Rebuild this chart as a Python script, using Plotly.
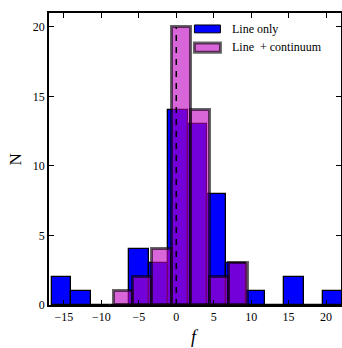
import numpy as np
import plotly.graph_objs as go

# histogram "Line only": bin edges and counts
line_edges = [-16.6, -14.01, -11.43, -8.84, -6.25, -3.67, -1.08, 1.51,
              4.09, 6.68, 9.27, 11.85, 14.44, 17.03, 19.61, 22.2]
line_counts = [2, 1, 0, 0, 4, 3, 14, 13, 8, 3, 1, 0, 2, 0, 1]

# histogram "Line + continuum"
cont_edges = [-8.3, -5.74, -3.18, -0.62, 1.94, 4.5, 7.06, 9.62]
cont_counts = [1, 2, 4, 20, 14, 2, 3]

x_ticks = [-15, -10, -5, 0, 5, 10, 15, 20]
y_ticks = [0, 5, 10, 15, 20]
ref_x = 0

FONT = "Liberation Serif"


def bar_geom(edges):
    e = np.array(edges)
    return (e[:-1] + e[1:]) / 2, np.diff(e)


xc1, w1 = bar_geom(line_edges)
xc2, w2 = bar_geom(cont_edges)

trace0 = go.Bar(
    x=xc1, y=line_counts, width=w1,
    name='Line only',
    marker=dict(color='rgb(0,0,255)',
                line=dict(color='black', width=1.3)),
    showlegend=False
)
trace1 = go.Bar(
    x=xc2, y=cont_counts, width=w2,
    name='Line + continuum',
    marker=dict(color='rgba(191,0,191,0.6)',
                line=dict(color='rgba(0,0,0,0.6)', width=3)),
    showlegend=False
)

fig = go.Figure(data=[trace0, trace1])

# dashed line at f = 0
fig.add_shape(type='line', x0=ref_x, x1=ref_x, y0=0, y1=max(cont_counts),
              xref='x', yref='y',
              line=dict(color='black', width=1.5, dash='6px,6px'))

# hand-made legend (wide patches like matplotlib)
fig.add_shape(type='rect', xref='paper', yref='paper',
              x0=0.498, x1=0.587, y0=0.932, y1=0.959,
              fillcolor='rgb(0,0,255)', line=dict(color='black', width=1))
fig.add_shape(type='rect', xref='paper', yref='paper',
              x0=0.498, x1=0.587, y0=0.866, y1=0.897,
              fillcolor='rgba(191,0,191,0.6)',
              line=dict(color='rgba(0,0,0,0.6)', width=3))
fig.add_annotation(text='Line only', xref='paper', yref='paper',
                   x=0.62, y=0.945, xanchor='left', yanchor='middle',
                   showarrow=False, font=dict(family=FONT, size=12, color='black'))
fig.add_annotation(text='Line  + continuum', xref='paper', yref='paper',
                   x=0.62, y=0.882, xanchor='left', yanchor='middle',
                   showarrow=False, font=dict(family=FONT, size=12, color='black'))

# axis titles as annotations so they sit where the reference has them
fig.add_annotation(text='<i>f</i>', xref='paper', yref='paper',
                   x=0.5, y=-0.11, xanchor='center', yanchor='middle',
                   showarrow=False, font=dict(family=FONT, size=18, color='black'))
fig.add_annotation(text='N', xref='paper', yref='paper', textangle=-90,
                   x=-0.115, y=0.5, xanchor='center', yanchor='middle',
                   showarrow=False, font=dict(family=FONT, size=17, color='black'))

axis_style = dict(showline=True, linecolor='black', linewidth=1.5,
                  mirror='allticks', ticks='inside', ticklen=5,
                  tickwidth=1, tickcolor='black', showgrid=False,
                  zeroline=False, automargin=False,
                  tickfont=dict(family=FONT, size=12, color='black'))

fig.update_layout(
    width=342, height=348,
    margin=dict(l=49, r=1, t=13, b=43),
    paper_bgcolor='white', plot_bgcolor='white',
    barmode='overlay', bargap=0,
    xaxis=dict(range=[-17, 22], tickvals=x_ticks, **axis_style),
    yaxis=dict(range=[0, 21], tickvals=y_ticks, **axis_style),
)

# drop the default body margin so the figure fills the window exactly
fig.write_html("out.html",
               config={'displayModeBar': False},
               post_script="document.body.style.margin='0';"
                           "document.body.style.overflow='hidden';")
